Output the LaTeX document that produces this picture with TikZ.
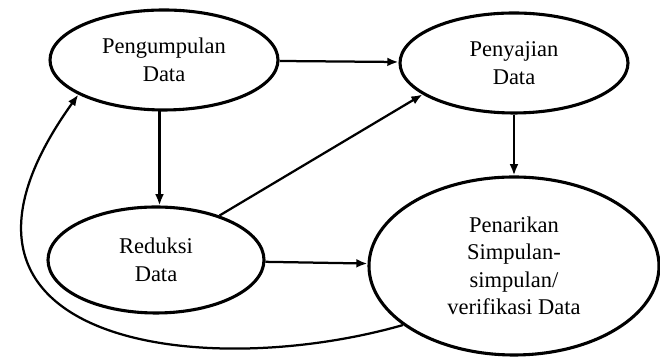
\documentclass[tikz,border=0pt]{standalone}
\usepackage{fontspec}
\setmainfont{Liberation Serif}
\usetikzlibrary{arrows.meta,shapes.geometric}

\begin{document}
\begin{tikzpicture}[>={Latex[length=2.8mm,width=2.2mm]},
		proses/.style={draw,ellipse,line width=2.2pt,align=center,inner sep=0pt,
			font=\fontsize{16}{19.5}\selectfont},
		alur/.style={->,line width=1.6pt}]
		\useasboundingbox (0,0) rectangle (16.5,9.075);
		\node[proses,minimum width=5.7cm,minimum height=2.5cm] (kumpul) at (4.1,7.575) {Pengumpulan\\Data};
		\node[proses,minimum width=5.7cm,minimum height=2.5cm] (saji) at (12.85,7.5) {Penyajian\\Data};
		\node[proses,minimum width=5.4cm,minimum height=2.65cm] (reduksi) at (3.9,2.575) {Reduksi\\Data};
		\node[proses,minimum width=7.25cm,minimum height=4.45cm] (tarik) at (12.85,2.425) {Penarikan\\Simpulan-\\simpulan/\\verifikasi Data};
		\draw[alur] (kumpul) -- (saji);
		\draw[alur] (kumpul.265) -- (kumpul.265 |- reduksi.north);
		\draw[alur] (saji) -- (tarik);
		\draw[alur] (reduksi) -- (tarik);
		\draw[alur] (reduksi.35) -- (saji.199);
		\draw[alur] (tarik.208) .. controls (5,-0.5) and (-2.5,0.5) .. (kumpul.202);
	\end{tikzpicture}
\end{document}
